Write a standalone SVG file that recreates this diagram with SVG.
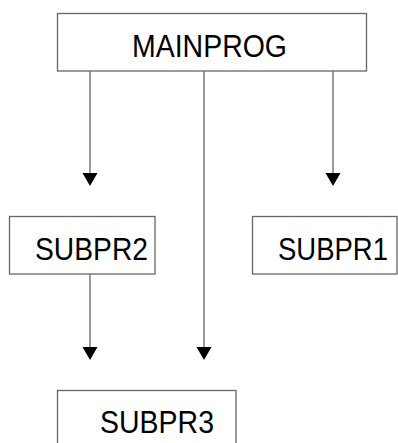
<svg xmlns="http://www.w3.org/2000/svg" width="398" height="443" viewBox="0 0 398 443">
<style>
.box{fill:#fff;stroke:#666;stroke-width:1.3}
.lbl{font-family:"Liberation Sans",Arial,sans-serif;font-size:30.5px;fill:#000}
.con{stroke:#666;stroke-width:1.3;fill:none}
.ah{fill:#000}
</style>
<rect width="398" height="443" fill="#fff"/>
<g id="connectors">
<line class="con" x1="90" y1="71" x2="90" y2="175"/>
<polygon class="ah" points="82.5,173 97.5,173 90,186"/>
<line class="con" x1="333" y1="71" x2="333" y2="175"/>
<polygon class="ah" points="325.5,173 340.5,173 333,186"/>
<line class="con" x1="204" y1="71" x2="204" y2="348"/>
<polygon class="ah" points="196.5,347 211.5,347 204,360"/>
<line class="con" x1="90" y1="274" x2="90" y2="348"/>
<polygon class="ah" points="82.5,347 97.5,347 90,360"/>
</g>
<g id="mainprog">
<rect class="box" x="57.5" y="13.5" width="309" height="57.5"/>
<text class="lbl" x="132" y="57" textLength="155" lengthAdjust="spacingAndGlyphs">MAINPROG</text>
</g>
<g id="subpr2">
<rect class="box" x="9.5" y="216.5" width="145.5" height="57.5"/>
<text class="lbl" x="35" y="260" textLength="113" lengthAdjust="spacingAndGlyphs">SUBPR2</text>
</g>
<g id="subpr1">
<rect class="box" x="252.5" y="216.5" width="144.5" height="57.5"/>
<text class="lbl" x="278" y="260" textLength="110" lengthAdjust="spacingAndGlyphs">SUBPR1</text>
</g>
<g id="subpr3">
<rect class="box" x="57.5" y="390.5" width="178.5" height="60"/>
<text class="lbl" x="100" y="433" textLength="114" lengthAdjust="spacingAndGlyphs">SUBPR3</text>
</g>
</svg>
